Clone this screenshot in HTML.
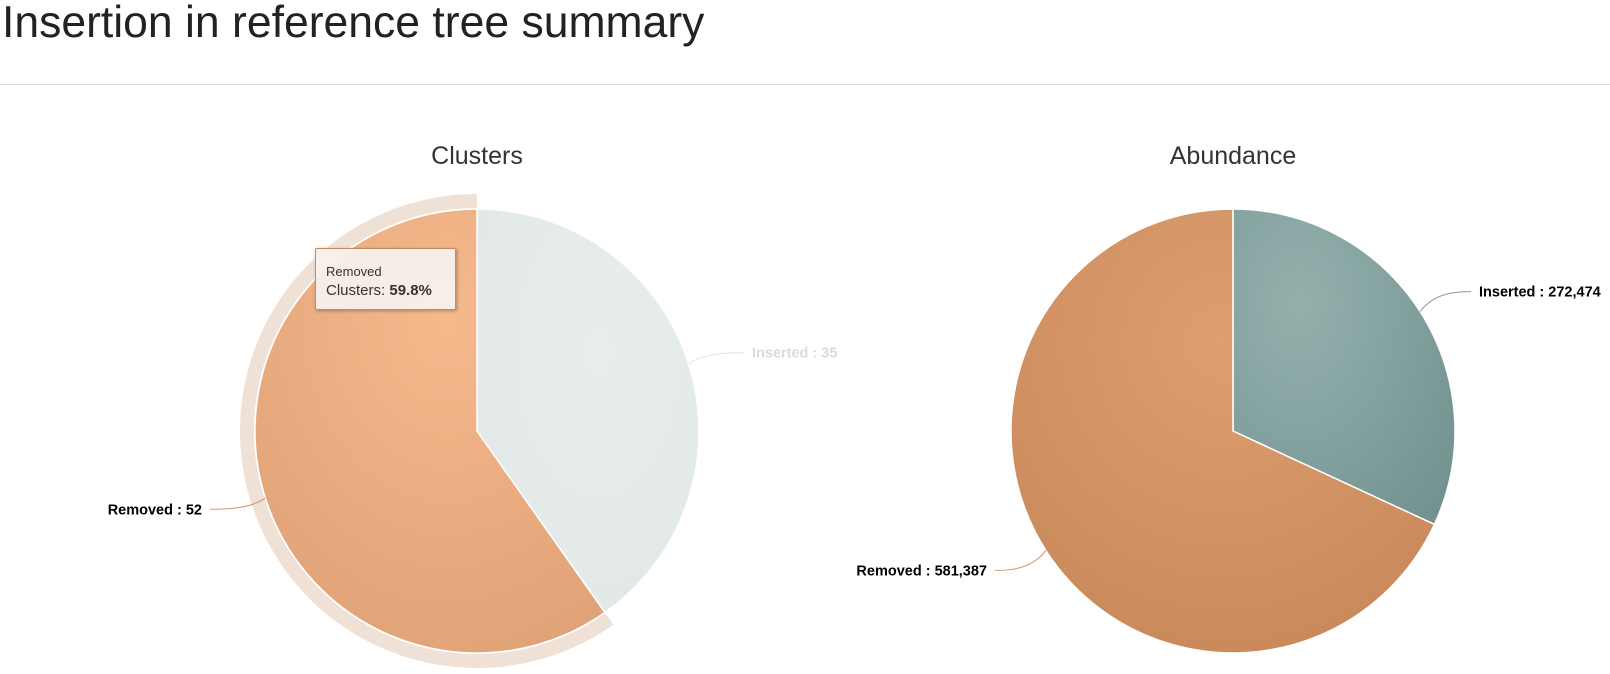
<!DOCTYPE html>
<html><head><meta charset="utf-8"><style>
body{margin:0;width:1610px;height:674px;background:#fff;overflow:hidden;font-family:"Liberation Sans",sans-serif}
h1{position:absolute;left:2px;top:0;margin:0;font-weight:400;font-size:44.5px;color:#222;line-height:46px}
.hr{position:absolute;left:0;top:84px;width:1610px;height:1px;background:#ddd}
</style></head><body>
<h1>Insertion in reference tree summary</h1>
<div class="hr"></div>
<svg id="c" width="1610" height="674" style="position:absolute;left:0;top:0">
<defs>
<radialGradient id="gR" cx="0.55" cy="0.25" r="0.9"><stop offset="0" stop-color="#f6b98c"/><stop offset="1" stop-color="#dd9f74"/></radialGradient>
<radialGradient id="gI" cx="0.55" cy="0.35" r="0.9"><stop offset="0" stop-color="#e9eded"/><stop offset="1" stop-color="#e0e7e7"/></radialGradient>
<radialGradient id="gR2" cx="0.5" cy="0.3" r="0.9"><stop offset="0" stop-color="#dd9e70"/><stop offset="1" stop-color="#c48456"/></radialGradient>
<radialGradient id="gI2" cx="0.3" cy="0.3" r="0.9"><stop offset="0" stop-color="#93b0ad"/><stop offset="1" stop-color="#73928f"/></radialGradient>
</defs>
</svg>
<div style="position:absolute;left:315px;top:248px;width:141px;height:62px;box-sizing:border-box;background:rgba(247,240,236,0.95);border:1px solid #c58b64;border-radius:2px;box-shadow:1px 1px 3px rgba(0,0,0,0.3);padding:13px 10px;font-size:13px;color:#333;line-height:19px">Removed<br><span style="font-size:15px">Clusters: <b>59.8%</b></span></div>
<script>
const categories=["Inserted","Removed"];
const clustersValues=[35,52];
const abundanceValues=[272474,581387];
const chartTitles=["Clusters","Abundance"];
const svg=document.getElementById('c');const NS='http://www.w3.org/2000/svg';
function mk(t,a){const e=document.createElementNS(NS,t);for(const k in a)e.setAttribute(k,a[k]);svg.appendChild(e);return e;}
function pt(cx,cy,r,a){return [cx+r*Math.sin(a),cy-r*Math.cos(a)];}
function arc(cx,cy,r,a0,a1,ri){const [x0,y0]=pt(cx,cy,r,a0),[x1,y1]=pt(cx,cy,r,a1);const lg=a1-a0>Math.PI?1:0;
 if(ri){const [x2,y2]=pt(cx,cy,ri,a1),[x3,y3]=pt(cx,cy,ri,a0);return `M${x0},${y0}A${r},${r} 0 ${lg} 1 ${x1},${y1}L${x2},${y2}A${ri},${ri} 0 ${lg} 0 ${x3},${y3}Z`;}
 return `M${cx},${cy}L${x0},${y0}A${r},${r} 0 ${lg} 1 ${x1},${y1}Z`;}
function pie(cx,cy,r,vals,fills,title,idx){
 const t=mk('text',{x:cx,y:164,'text-anchor':'middle','font-size':25,fill:'#333','font-family':'Liberation Sans, sans-serif'});t.textContent=title;
 
 
 const tot=vals.reduce((a,b)=>a+b,0);let a=0;
 vals.forEach((v,i)=>{const a1=a+v/tot*2*Math.PI;
  if(idx===0&&i===1){const h=mk('path',{d:arc(cx,cy,r+15,a,a1,r+1),fill:'#f0e1d7'});
   
   }
  const p=mk('path',{d:arc(cx,cy,r,a,a1),fill:fills[i],stroke:'#fff','stroke-width':1.5});
  
  
  const m=(a+a1)/2,s=Math.sin(m),c=Math.cos(m);
  const [ex,ey]=pt(cx,cy,r,m);const ly=cy-(r+37)*c;const lx=cx+(s>0?1:-1)*(r+(idx===0?53:24));
  const faded=(idx===0&&i===0);
  const lc=faded?'#dfe3e3':(i===0?'#7f9e9b':'#d4956a');
  mk('path',{d:`M${ex},${ey}C${ex+(s>0?15:-15)},${ly} ${lx-(s>0?20:-20)},${ly} ${lx-(s>0?8:-8)},${ly}`,fill:'none',stroke:lc,'stroke-width':1});
  const tx=mk('text',{x:lx,y:ly+5,'text-anchor':s>0?'start':'end','font-size':14.5,'font-weight':'bold',fill:faded?'#d8dcdc':'#000','font-family':'Liberation Sans, sans-serif'});
  tx.textContent=categories[i]+' : '+v.toLocaleString('en-US');
  
  
  a=a1;});
}
pie(477,431,222,clustersValues,['url(#gI)','url(#gR)'],chartTitles[0],0);
pie(1233,431,222,abundanceValues,['url(#gI2)','url(#gR2)'],chartTitles[1],1);
</script>
</body></html>
